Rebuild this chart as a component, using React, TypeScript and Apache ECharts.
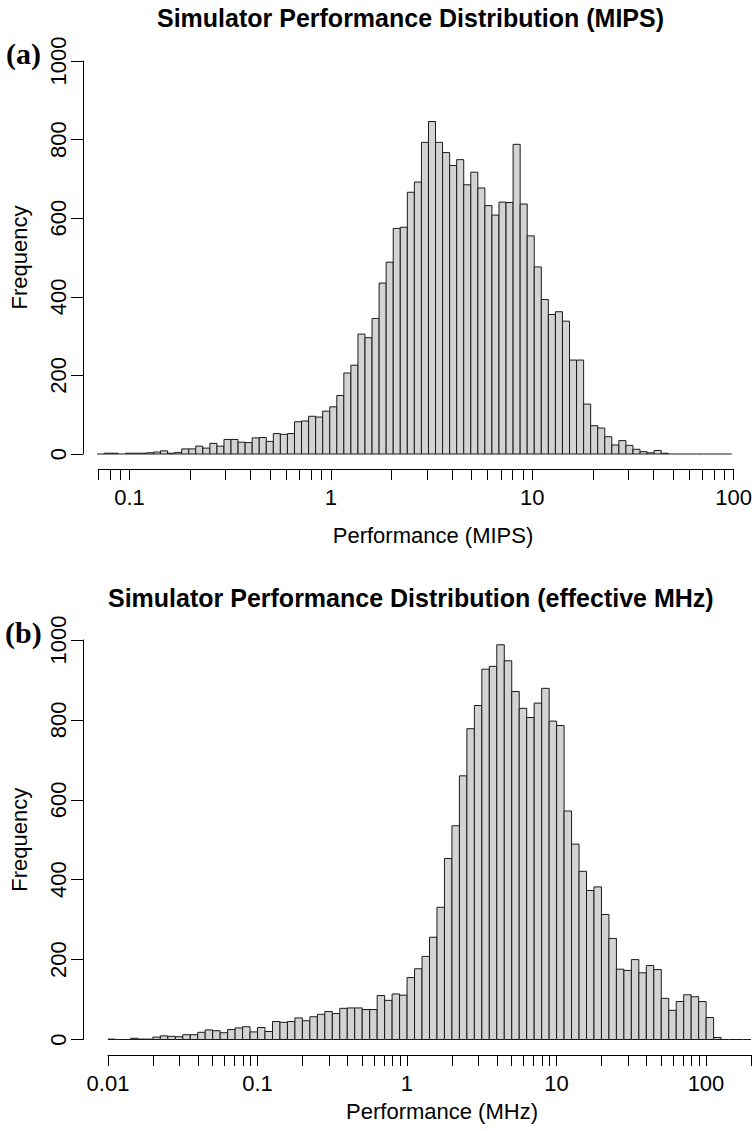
import React, { useEffect, useRef } from "react";
import * as echarts from "echarts";

// Panel (a): Simulator performance in MIPS, 90 log-spaced bins
const countsA = [
  0, 2, 2, 0, 2, 2, 2, 3, 5, 8,
  2, 4, 13, 13, 20, 15, 27, 20, 37, 37,
  30, 29, 41, 42, 32, 52, 50, 52, 82, 84,
  96, 94, 109, 120, 149, 206, 226, 305, 296, 345,
  435, 488, 574, 577, 666, 692, 793, 846, 793, 767,
  734, 749, 685, 717, 677, 632, 608, 641, 640, 788,
  636, 555, 476, 393, 355, 362, 338, 239, 239, 127,
  72, 66, 44, 23, 34, 22, 12, 6, 3, 9,
  2, 0, 0, 0, 0, 0, 0, 0, 0, 0,
];
const binRangeA = [0.069, 97.8];
const ticksA = [0.07, 0.08, 0.09, 0.1, 0.2, 0.3, 0.4, 0.5, 0.6, 0.7, 0.8, 0.9, 1, 2, 3, 4, 5, 6, 7, 8, 9, 10, 20, 30, 40, 50, 60, 70, 80, 90, 100];
const labelsA = ["0.1", "1", "10", "100"];

// Panel (b): Simulator performance in effective MHz, 86 log-spaced bins
const countsB = [
  1, 0, 0, 3, 1, 1, 6, 9, 8, 7,
  12, 12, 18, 24, 22, 17, 25, 29, 32, 19,
  30, 20, 45, 43, 45, 54, 47, 57, 63, 70,
  65, 78, 79, 79, 75, 75, 110, 98, 114, 111,
  155, 177, 208, 256, 331, 453, 535, 660, 778, 836,
  927, 934, 988, 948, 871, 829, 806, 842, 879, 797,
  786, 572, 489, 421, 373, 382, 313, 253, 176, 173,
  200, 167, 185, 175, 103, 73, 95, 112, 107, 95,
  55, 5, 0, 0, 0, 0,
];
const binRangeB = [0.01, 200];
const ticksB = [0.01, 0.02, 0.03, 0.04, 0.05, 0.06, 0.07, 0.08, 0.09, 0.1, 0.2, 0.3, 0.4, 0.5, 0.6, 0.7, 0.8, 0.9, 1, 2, 3, 4, 5, 6, 7, 8, 9, 10, 20, 30, 40, 50, 60, 70, 80, 90, 100, 200];
const labelsB = ["0.01", "0.1", "1", "10", "100"];

const yTicks = [0, 200, 400, 600, 800, 1000];
const yLabels = ["0", "200", "400", "600", "800", "1000"];

const titleA = "Simulator Performance Distribution (MIPS)";
const titleB = "Simulator Performance Distribution (effective MHz)";
const xNameA = "Performance (MIPS)";
const xNameB = "Performance (MHz)";
const yName = "Frequency";

const FONT = '"Liberation Sans", Arial, Helvetica, sans-serif';

function makeBins(counts: number[], range: number[]) {
  const n = counts.length;
  const a = Math.log10(range[0]);
  const b = Math.log10(range[1]);
  const w = (b - a) / n;
  return counts.map((c, i) => [Math.pow(10, a + i * w), Math.pow(10, a + (i + 1) * w), c]);
}

function labelFormatter(labels: string[]) {
  const vals = labels.map(Number);
  return (v: number) => {
    const i = vals.findIndex((l) => Math.abs(Math.log10(l) - Math.log10(v)) < 1e-6);
    return i >= 0 ? labels[i] : "";
  };
}

const renderBar = (params: any, api: any) => {
  const x0 = api.value(0);
  const x1 = api.value(1);
  const c = api.value(2);
  const p0 = api.coord([x0, c]);
  const p1 = api.coord([x1, 0]);
  if (c <= 0) {
    return {
      type: "line",
      shape: { x1: p0[0], y1: p1[1], x2: p1[0], y2: p1[1] },
      style: { stroke: "#1a1a1a", lineWidth: 1 },
    };
  }
  return {
    type: "rect",
    shape: { x: p0[0], y: p0[1], width: p1[0] - p0[0], height: p1[1] - p0[1] },
    style: { fill: "#d3d3d3", stroke: "#1a1a1a", lineWidth: 1 },
  };
};

function xAxisCfg(gridIndex: number, min: number, max: number, ticks: number[], labels: string[], offset: number) {
  return {
    gridIndex,
    type: "log",
    logBase: 10,
    min,
    max,
    offset,
    axisLine: { show: true, onZero: false, lineStyle: { color: "#000", width: 1 } },
    axisTick: { show: true, length: 11, customValues: ticks, lineStyle: { color: "#000", width: 1 } },
    minorTick: { show: false },
    axisLabel: {
      customValues: labels.map(Number),
      formatter: labelFormatter(labels),
      fontSize: 22,
      fontFamily: FONT,
      color: "#000",
      margin: 17,
    },
    splitLine: { show: false },
  };
}

function yAxisCfg(gridIndex: number, offset: number) {
  return {
    gridIndex,
    type: "value",
    min: 0,
    max: 1000,
    interval: 200,
    offset,
    axisLine: { show: true, lineStyle: { color: "#000", width: 1 } },
    axisTick: { show: true, length: 12, lineStyle: { color: "#000", width: 1 } },
    axisLabel: {
      customValues: yTicks,
      formatter: (v: number) => {
        const i = yTicks.indexOf(Math.round(v));
        return i >= 0 ? yLabels[i] : "";
      },
      rotate: 90,
      fontSize: 22,
      fontFamily: FONT,
      color: "#000",
      margin: 14,
    },
    splitLine: { show: false },
    name: yName,
    nameLocation: "middle",
    nameGap: 53,
    nameTextStyle: { fontSize: 22, fontFamily: FONT, color: "#000" },
  };
}

export default function App() {
  const ref = useRef<HTMLDivElement>(null);
  useEffect(() => {
    if (!ref.current) return;
    const chart = echarts.init(ref.current, undefined, { renderer: "svg" });
    chart.setOption({
      animation: false,
      backgroundColor: "#fff",
      grid: [
        { left: 95.3, right: 20, top: 61, height: 393 },
        { left: 106, right: 4, top: 640, height: 399.5 },
      ],
      xAxis: [
        xAxisCfg(0, 0.07, 100, ticksA, labelsA, 15),
        xAxisCfg(1, 0.01, 200, ticksB, labelsB, 15.5),
      ],
      yAxis: [yAxisCfg(0, 15.3), yAxisCfg(1, 25)],
      series: [
        {
          type: "custom",
          xAxisIndex: 0,
          yAxisIndex: 0,
          renderItem: renderBar,
          encode: { x: [0, 1], y: 2 },
          data: makeBins(countsA, binRangeA),
        },
        {
          type: "custom",
          xAxisIndex: 1,
          yAxisIndex: 1,
          renderItem: renderBar,
          encode: { x: [0, 1], y: 2 },
          data: makeBins(countsB, binRangeB),
        },
      ],
      graphic: [
        { type: "text", x: 157, y: 18, style: { text: titleA, font: `bold 25px ${FONT}`, fill: "#000", align: "left", verticalAlign: "middle" } },
        { type: "text", x: 108, y: 598, style: { text: titleB, font: `bold 25px ${FONT}`, fill: "#000", align: "left", verticalAlign: "middle" } },
        { type: "text", x: 6, y: 53, style: { text: "(a)", font: `bold 30px "Liberation Serif", "Times New Roman", serif`, fill: "#000", align: "left", verticalAlign: "middle" } },
        { type: "text", x: 5, y: 632, style: { text: "(b)", font: `bold 30px "Liberation Serif", "Times New Roman", serif`, fill: "#000", align: "left", verticalAlign: "middle" } },
        { type: "text", x: 433, y: 535, style: { text: xNameA, font: `22px ${FONT}`, fill: "#000", align: "center", verticalAlign: "middle" } },
        { type: "text", x: 442, y: 1111, style: { text: xNameB, font: `22px ${FONT}`, fill: "#000", align: "center", verticalAlign: "middle" } },
      ],
    });
    return () => chart.dispose();
  }, []);
  return <div ref={ref} style={{ position: "absolute", left: 0, top: 0, width: 755, height: 1131 }} />;
}
